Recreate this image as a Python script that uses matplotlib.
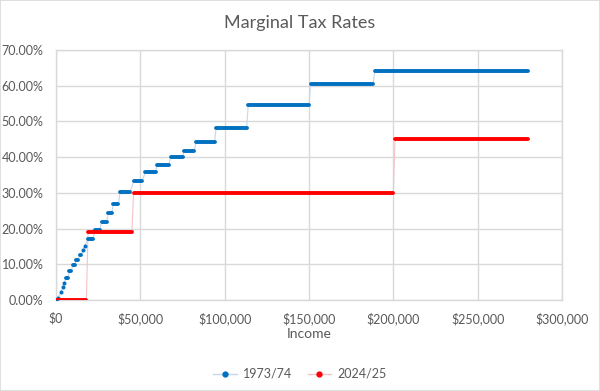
import matplotlib.pyplot as plt
from matplotlib.lines import Line2D
from matplotlib.patches import Rectangle
from matplotlib.ticker import FuncFormatter, MultipleLocator

plt.rcParams['font.family'] = ['Lato', 'DejaVu Sans']

# Tax brackets: first income, last income, marginal rate
blue_lo = [0, 1000, 3000, 4000, 5000, 6000, 8000, 10000, 12000, 14000, 16000, 17000,
           19000, 23000, 27000, 31000, 34000, 38000, 46000, 53000, 60000, 68000,
           76000, 83000, 95000, 114000, 151000, 189000]
blue_hi = [0, 1000, 3000, 4000, 5000, 7000, 9000, 11000, 13000, 15000, 16000, 17000,
           22000, 26000, 30000, 33000, 37000, 44000, 51000, 59000, 67000, 75000,
           82000, 94000, 113000, 150000, 188000, 280000]
blue_rate = [0.0, 0.006, 0.022, 0.036, 0.049, 0.063, 0.080, 0.097, 0.111, 0.125, 0.139, 0.151,
             0.171, 0.196, 0.219, 0.243, 0.268, 0.302, 0.332, 0.358, 0.379, 0.400,
             0.418, 0.442, 0.482, 0.547, 0.605, 0.641]

red_lo = [0, 19000, 46000, 201000]
red_hi = [18000, 45000, 200000, 280000]
red_rate = [0.0, 0.19, 0.30, 0.45]

series = [
    ("1973/74", blue_lo, blue_hi, blue_rate, "#0070c0", "#c5d6ee"),
    ("2024/25", red_lo, red_hi, red_rate, "#ff0000", "#f2c4c8"),
]

grey = "#595959"
grid = "#d9d9d9"

fig = plt.figure(figsize=(6, 3.91), dpi=100)
ax = fig.add_axes([56 / 600, 91 / 391, 506 / 600, 250 / 391])

handles = []
for name, lo, hi, rate, col, light in series:
    # thin connecting line through all the points
    xs, ys = [], []
    for a, b, r in zip(lo, hi, rate):
        xs += [a, b]
        ys += [r, r]
    ax.plot(xs, ys, color=light, lw=0.8, zorder=2)
    # each bracket: a thick run, or a single dot
    for a, b, r in zip(lo, hi, rate):
        if a == b:
            ax.plot([a], [r], 'o', ms=2.9, mew=0, mfc=col, zorder=3)
        else:
            ax.plot([a, b], [r, r], color=col, lw=2.8,
                    solid_capstyle='round', zorder=3)
    handles.append(Line2D([], [], color=light, lw=1.0, marker='o', ms=3.5,
                          mfc=col, mec=col, label=name))

ax.set_xlim(0, 300000)
ax.set_ylim(0, 0.70)
ax.xaxis.set_major_locator(MultipleLocator(50000))
ax.yaxis.set_major_locator(MultipleLocator(0.10))
ax.xaxis.set_major_formatter(FuncFormatter(lambda v, p: "${:,.0f}".format(v)))
ax.yaxis.set_major_formatter(FuncFormatter(lambda v, p: "{:.2f}%".format(v * 100)))
ax.grid(True, color=grid, lw=1.0)
ax.set_axisbelow(True)
for s in ax.spines.values():
    s.set_color(grid)
    s.set_linewidth(1.0)
ax.tick_params(length=0, colors=grey, labelsize=9)
ax.tick_params(axis='y', pad=9)
ax.tick_params(axis='x', pad=9)

ax.set_xlabel("Income", color=grey, fontsize=10, labelpad=2)
fig.text(0.5, 1 - 23 / 391, "Marginal Tax Rates", ha='center', va='center',
         color=grey, fontsize=13)

fig.legend(handles=handles, loc='center', bbox_to_anchor=(0.5, 1 - 374 / 391),
           ncol=2, frameon=False, fontsize=9, labelcolor=grey,
           handlelength=1.9, columnspacing=1.2, handletextpad=0.5)

fig.patches.append(Rectangle((0, 0), 1, 1, transform=fig.transFigure,
                             fill=False, edgecolor=grid, lw=1.2))

fig.savefig("out.png", dpi=100)
